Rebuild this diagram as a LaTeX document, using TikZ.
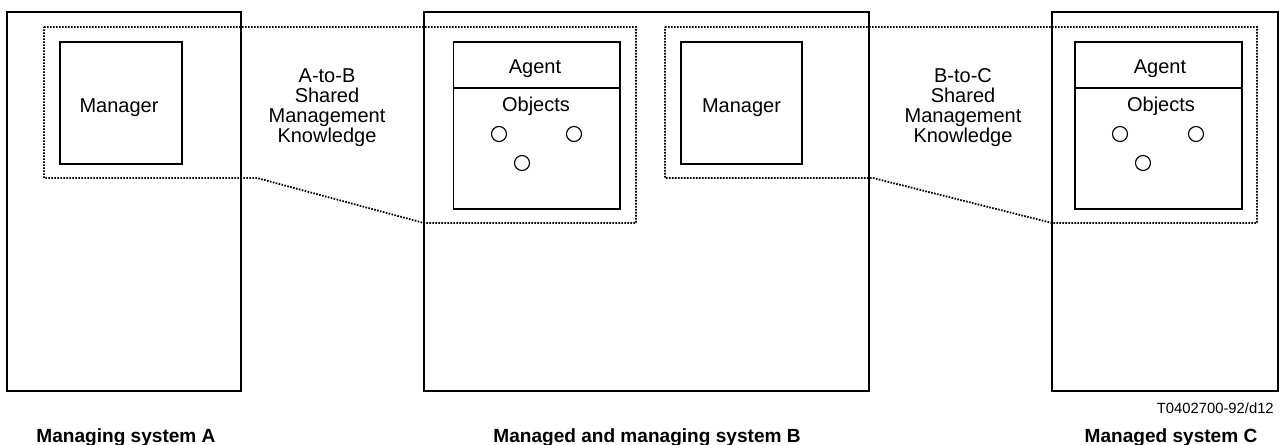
\documentclass[tikz,border=0pt]{standalone}
\usepackage{fontspec}
\setmainfont{Liberation Sans}
\begin{document}
\begin{tikzpicture}[x=0.75pt,y=-0.75pt,
  box/.style={draw=black,line width=0.9pt},
  dotline/.style={draw=black,line width=1.35pt,dash pattern=on 1.2pt off 1.05pt},
  obj/.style={circle,draw=black,line width=0.85pt,inner sep=0pt,minimum size=11.25pt},
  lbl/.style={font=\fontsize{15}{15}\selectfont,anchor=base,inner sep=0pt},
  syscap/.style={font=\fontsize{14.3}{15}\selectfont\bfseries,anchor=base,inner sep=0pt},
  figref/.style={font=\fontsize{11.1}{12}\selectfont,anchor=base east,inner sep=0pt}]
\useasboundingbox (0,0) rectangle (1281,445);
% systems
\draw[box] (7,12) rectangle (241,391);
\draw[box] (424,12) rectangle (869,391);
\draw[box] (1052,12) rectangle (1278,391);
% managers
\draw[box] (60,42) rectangle (182,164);
\draw[box] (681,42) rectangle (802,164);
% agents
\draw[box] (453.5,42) rectangle (620,209);
\draw[box] (453.5,88) -- (620,88);
\draw[box] (1075,42) rectangle (1242,209);
\draw[box] (1075,88) -- (1242,88);
% shared knowledge outlines
\draw[dotline] (44,27) -- (636,27) -- (636,223) -- (424,223) -- (257,178) -- (44,178) -- cycle;
\draw[dotline] (665,27) -- (1257,27) -- (1257,223) -- (1052,223) -- (873,178) -- (665,178) -- cycle;
% objects
\node[obj] (ob1) at (499,134) {};
\node[obj] (ob2) at (574,134) {};
\node[obj] (ob3) at (522,163) {};
\node[obj] (oc1) at (1120,134) {};
\node[obj] (oc2) at (1196,134) {};
\node[obj] (oc3) at (1143,163) {};
% texts
\node[lbl] (mgrA) at (119,113) {Manager};
\node[lbl] (mgrB) at (741.5,113) {Manager};
\node[lbl] (agB) at (535,74) {Agent};
\node[lbl] (objB) at (536,112) {Objects};
\node[lbl] (agC) at (1160,74) {Agent};
\node[lbl] (objC) at (1161,112) {Objects};
\node[lbl] (ab1) at (327,83) {A-to-B};
\node[lbl] (ab2) at (327,103) {Shared};
\node[lbl] (ab3) at (327,123) {Management};
\node[lbl] (ab4) at (327,143) {Knowledge};
\node[lbl] (bc1) at (963,83) {B-to-C};
\node[lbl] (bc2) at (963,103) {Shared};
\node[lbl] (bc3) at (963,123) {Management};
\node[lbl] (bc4) at (963,143) {Knowledge};
\node[figref] (tref) at (1274,413) {T0402700-92/d12};
\node[syscap] (capA) at (126,442) {Managing system A};
\node[syscap] (capB) at (647,442) {Managed and managing system B};
\node[syscap] (capC) at (1171,442) {Managed system C};
\end{tikzpicture}
\end{document}
